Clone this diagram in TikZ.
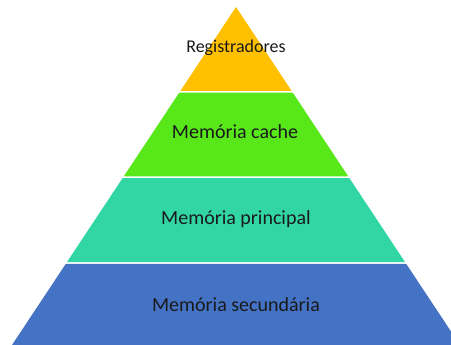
\documentclass[tikz,border=0pt]{standalone}
\usepackage{fontspec}
\setmainfont{Carlito}
\definecolor{regc}{HTML}{FFC000}
\definecolor{cachec}{HTML}{58E81A}
\definecolor{princ}{HTML}{32D6A5}
\definecolor{secc}{HTML}{4472C4}
\definecolor{txt}{HTML}{1A1A1A}
\tikzset{lbl/.style={text=txt, inner sep=0pt, anchor=base}}
\begin{document}
\begin{tikzpicture}[x=1pt,y=-1pt]
\useasboundingbox (0,0) rectangle (451,345);
\clip (0,0) rectangle (451,345);
% apex (236,7); half-width = (y-7)*0.6627
\coordinate (apex) at (236,7);
\fill[regc] (apex) -- ({236+(90.8-7)*0.6627},90.8) -- ({236-(90.8-7)*0.6627},90.8) -- cycle;
\fill[cachec] ({236-(92.6-7)*0.6627},92.6) -- ({236+(92.6-7)*0.6627},92.6) -- ({236+(176.3-7)*0.6627},176.3) -- ({236-(176.3-7)*0.6627},176.3) -- cycle;
\fill[princ] ({236-(178.2-7)*0.6627},178.2) -- ({236+(178.2-7)*0.6627},178.2) -- ({236+(262.2-7)*0.6627},262.2) -- ({236-(262.2-7)*0.6627},262.2) -- cycle;
\fill[secc] ({236-(264-7)*0.6627},264) -- ({236+(264-7)*0.6627},264) -- ({236+(360-7)*0.6627},360) -- ({236-(360-7)*0.6627},360) -- cycle;
\node[lbl, font=\fontsize{18}{20}\selectfont] (reg) at (236,53) {Registradores};
\node[lbl, font=\fontsize{20}{22}\selectfont] (cache) at (235,139) {Memória cache};
\node[lbl, font=\fontsize{20}{22}\selectfont] (prin) at (236,225) {Memória principal};
\node[lbl, font=\fontsize{20}{22}\selectfont] (sec) at (236,312) {Memória secundária};
\end{tikzpicture}
\end{document}
